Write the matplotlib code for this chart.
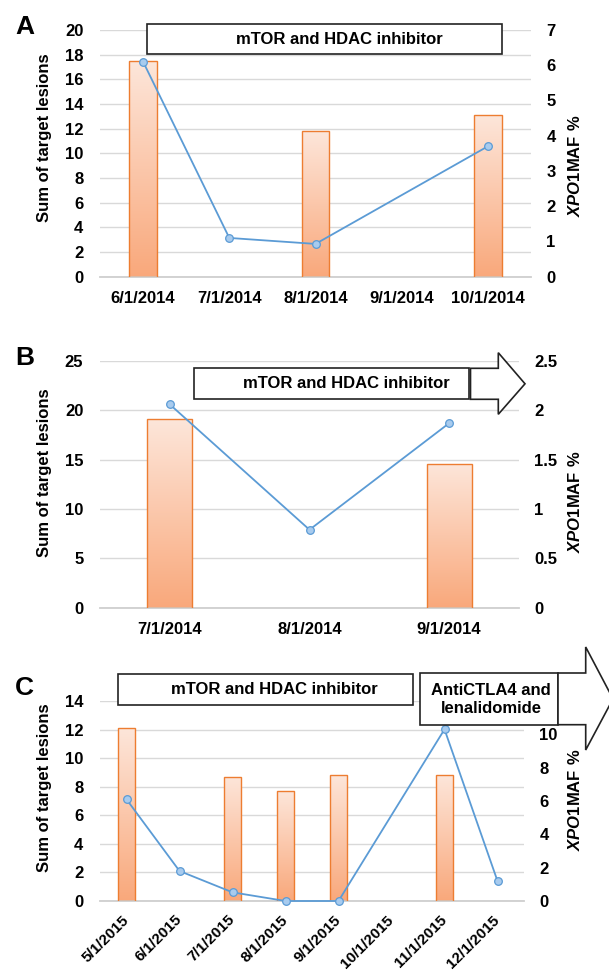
import numpy as np
import matplotlib
matplotlib.use("Agg")
import matplotlib.pyplot as plt
from matplotlib.colors import LinearSegmentedColormap
from matplotlib.patches import Rectangle, Polygon

plt.rcParams["font.family"] = ["Liberation Sans", "DejaVu Sans"]
plt.rcParams["font.weight"] = "bold"
plt.rcParams["mathtext.fontset"] = "custom"
plt.rcParams["mathtext.it"] = "Liberation Sans:italic:bold"
plt.rcParams["mathtext.rm"] = "Liberation Sans:bold"
plt.rcParams["mathtext.bf"] = "Liberation Sans:bold"

# panel A
dates_a = ["6/1/2014", "7/1/2014", "8/1/2014", "9/1/2014", "10/1/2014"]
lesions_a = [17.5, np.nan, 11.8, np.nan, 13.1]
maf_a = [6.1, 1.1, 0.93, np.nan, 3.7]

# panel B
dates_b = ["7/1/2014", "8/1/2014", "9/1/2014"]
lesions_b = [19.1, np.nan, 14.6]
maf_b = [2.06, 0.79, 1.87]

# panel C
dates_c = ["5/1/2015", "6/1/2015", "7/1/2015", "8/1/2015",
           "9/1/2015", "10/1/2015", "11/1/2015", "12/1/2015"]
lesions_c = [12.1, np.nan, 8.7, 7.7, 8.8, np.nan, 8.8, np.nan]
maf_c = [6.1, 1.8, 0.52, 0.0, 0.0, np.nan, 10.3, 1.2]

W, H = 609, 973
fig = plt.figure(figsize=(W / 100, H / 100), dpi=100)

ORANGE = "#ed7d31"
BLUE = "#5b9bd5"
GRID = "#d9d9d9"
cmap = LinearSegmentedColormap.from_list("bar", ["#fde6da", "#f9a87b"])
grad = np.linspace(0, 1, 256).reshape(-1, 1)
FS = 12


def axes_px(left, top, right, bottom):
    return [left / W, 1 - bottom / H, (right - left) / W, (bottom - top) / H]


def panel(rect, dates, lesions, maf, lmax, lstep, rmax, rticks, rlabels, rotate=False):
    ax = fig.add_axes(axes_px(*rect))
    n = len(dates)
    x = np.arange(n)
    les = np.array(lesions, float)
    ok = ~np.isnan(les)
    bars = ax.bar(x[ok], les[ok], width=0.32, facecolor="none",
                  edgecolor=ORANGE, lw=1.0, zorder=3)
    for b in bars:
        im = ax.imshow(grad, cmap=cmap, aspect="auto", zorder=2,
                       extent=[b.get_x(), b.get_x() + b.get_width(), 0, b.get_height()])
        im.set_clip_path(b)
    ax.set_xlim(-0.5, n - 0.5)
    ax.set_ylim(0, lmax)
    yt = np.arange(0, lmax + 0.01, lstep)
    ax.set_yticks(yt)
    ax.set_yticklabels([f"{v:g}" for v in yt], fontsize=FS)
    ax.set_xticks(x)
    if rotate:
        ax.set_xticklabels(dates, fontsize=11, rotation=45, ha="right",
                           va="center", rotation_mode="anchor")
        ax.tick_params(axis="x", pad=12)
    else:
        ax.set_xticklabels(dates, fontsize=FS)
        ax.tick_params(axis="x", pad=10)
    ax.tick_params(length=0)
    ax.tick_params(axis="y", pad=12)
    ax.yaxis.grid(True, color=GRID, lw=1.0)
    ax.set_axisbelow(True)
    for s in ax.spines.values():
        s.set_visible(False)
    ax.spines["bottom"].set_visible(True)
    ax.spines["bottom"].set_color("#cfcfcf")
    ax.spines["bottom"].set_linewidth(1.3)

    ax2 = ax.twinx()
    m = np.array(maf, float)
    okm = ~np.isnan(m)
    ax2.plot(x[okm], m[okm], color=BLUE, lw=1.3, marker="o", ms=5.5,
             mfc="#a8cbee", mec=BLUE, mew=0.9, clip_on=False, zorder=4)
    ax2.set_ylim(0, rmax)
    ax2.set_yticks(rticks)
    ax2.set_yticklabels(rlabels, fontsize=FS)
    ax2.tick_params(length=0, pad=11)
    for s in ax2.spines.values():
        s.set_visible(False)
    ax2.set_xlim(-0.5, n - 0.5)
    return ax


def box(x0, y0, x1, y1):
    fig.add_artist(Rectangle((x0 / W, 1 - y1 / H), (x1 - x0) / W, (y1 - y0) / H,
                             transform=fig.transFigure, fc="white", ec="#222222",
                             lw=1.2, zorder=5))


def arrow(x0, y0, y1, xh, yh0, yh1, xt):
    ym = (y0 + y1) / 2
    pts = [(x0, y0), (xh, y0), (xh, yh0), (xt, ym), (xh, yh1), (xh, y1), (x0, y1)]
    pts = [(px / W, 1 - py / H) for px, py in pts]
    fig.add_artist(Polygon(pts, closed=True, transform=fig.transFigure,
                           fc="white", ec="#222222", lw=1.2, zorder=5))


def label(x, y, s, **kw):
    fig.text(x / W, 1 - y / H, s, fontsize=kw.pop("fontsize", 12),
             fontweight="bold", zorder=6, **kw)


YLAB = "Sum of target lesions"
RLAB = r"$\mathit{XPO1}\mathrm{MAF\ \%}$"

# A
panel((100, 30, 531, 276.7), dates_a, lesions_a, maf_a, 20, 2, 7,
      list(range(8)), [str(v) for v in range(8)])
box(147, 24, 502, 54)
label(339, 39.5, "mTOR and HDAC inhibitor", ha="center", va="center")
label(15, 33.5, "A", fontsize=19, ha="left", va="baseline")
label(44.7, 138, YLAB, rotation=90, ha="center", va="center")
label(575, 166, RLAB, rotation=90, ha="center", va="center")

# B
panel((100, 361, 519, 607.7), dates_b, lesions_b, maf_b, 25, 5, 2.5,
      [0, 0.5, 1, 1.5, 2, 2.5], ["0", "0.5", "1", "1.5", "2", "2.5"])
box(194, 368.3, 469, 399.3)
arrow(470.5, 368.3, 399.3, 498.3, 352.7, 414.3, 525)
label(346, 383.5, "mTOR and HDAC inhibitor", ha="center", va="center")
label(15, 365, "B", fontsize=19, ha="left", va="baseline")
label(44.7, 473, YLAB, rotation=90, ha="center", va="center")
label(575, 502, RLAB, rotation=90, ha="center", va="center")

# C
panel((100, 701, 524, 901), dates_c, lesions_c, maf_c, 14, 2, 12,
      [0, 2, 4, 6, 8, 10], ["0", "2", "4", "6", "8", "10"], rotate=True)
box(118.4, 674, 412.8, 705)
label(274.6, 689.5, "mTOR and HDAC inhibitor", ha="center", va="center")
box(420.2, 673, 558, 724.7)
arrow(558, 673, 724.7, 585.7, 647, 750, 613)
label(491, 699.5, "AntiCTLA4 and\nlenalidomide", ha="center", va="center",
      linespacing=1.3)
label(15, 695, "C", fontsize=19, ha="left", va="baseline")
label(44.7, 788, YLAB, rotation=90, ha="center", va="center")
label(575, 800, RLAB, rotation=90, ha="center", va="center")

fig.savefig("out.png", dpi=100)
